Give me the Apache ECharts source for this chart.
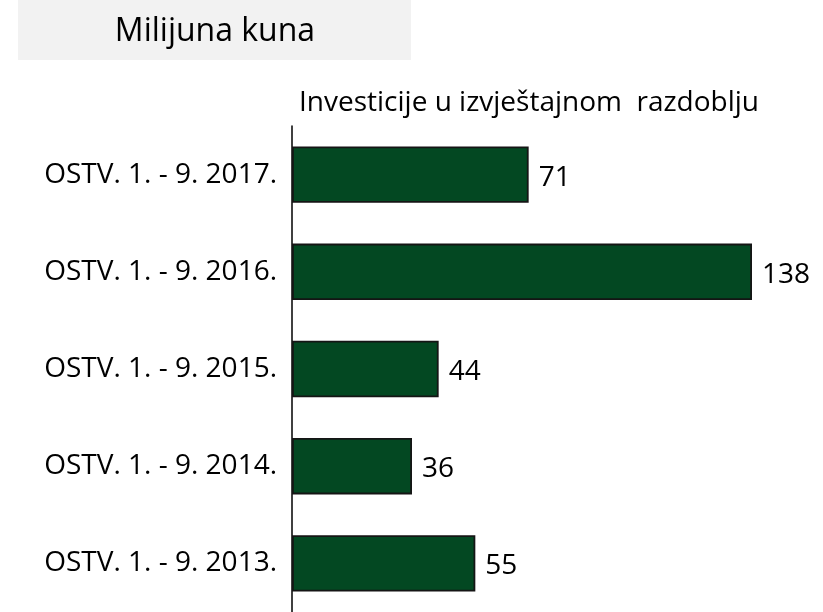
<!DOCTYPE html>
<html>
<head>
<meta charset="utf-8">
<script src="https://cdn.jsdelivr.net/npm/echarts@6/dist/echarts.min.js"></script>
<style>
  html, body { margin: 0; padding: 0; background: #fff; }
  #chart { width: 823px; height: 612px; }
</style>
</head>
<body>
<div id="chart"></div>
<script>
// podaci
const categories = ['OSTV. 1. - 9. 2017.', 'OSTV. 1. - 9. 2016.', 'OSTV. 1. - 9. 2015.', 'OSTV. 1. - 9. 2014.', 'OSTV. 1. - 9. 2013.'];
const investicije = [71, 138, 44, 36, 55];
const unitTitle = 'Milijuna kuna';
const seriesTitle = 'Investicije u izvještajnom  razdoblju';

const FONT = '"Open Sans", sans-serif';

const chart = echarts.init(document.getElementById('chart'));
const option = {
    animation: false,
    backgroundColor: '#ffffff',
    graphic: [{
        type: 'rect',
        shape: { x: 18, y: 0, width: 393, height: 60 },
        style: { fill: '#f2f2f2' },
        silent: true
    }],
    title: [{
        text: unitTitle,
        left: 215,
        top: 16,
        textAlign: 'center',
        padding: 0,
        textStyle: { fontFamily: FONT, fontSize: 32, fontWeight: 'normal', color: '#000' }
    }, {
        text: seriesTitle,
        left: 299,
        top: 89,
        padding: 0,
        textStyle: { fontFamily: FONT, fontSize: 28, fontWeight: 'normal', color: '#000' }
    }],
    grid: {
        left: 292,
        top: 126,
        width: 500,
        height: 487,
        containLabel: false
    },
    xAxis: {
        type: 'value',
        min: 0,
        max: 150,
        show: false
    },
    yAxis: {
        type: 'category',
        data: categories,
        inverse: true,
        axisLine: { show: true, lineStyle: { color: '#000', width: 1.5 } },
        axisTick: { show: false },
        axisLabel: {
            margin: 15,
            fontFamily: FONT,
            fontSize: 28,
            color: '#000'
        }
    },
    series: [{
        type: 'bar',
        data: investicije,
        barCategoryGap: '42%',
        itemStyle: { color: '#034822', borderColor: '#151515', borderWidth: 1.8 },
        label: {
            show: true,
            position: 'right',
            distance: 10,
            offset: [0, 3],
            fontFamily: FONT,
            fontSize: 28,
            color: '#000'
        }
    }]
};
chart.setOption(option);
</script>
</body>
</html>
